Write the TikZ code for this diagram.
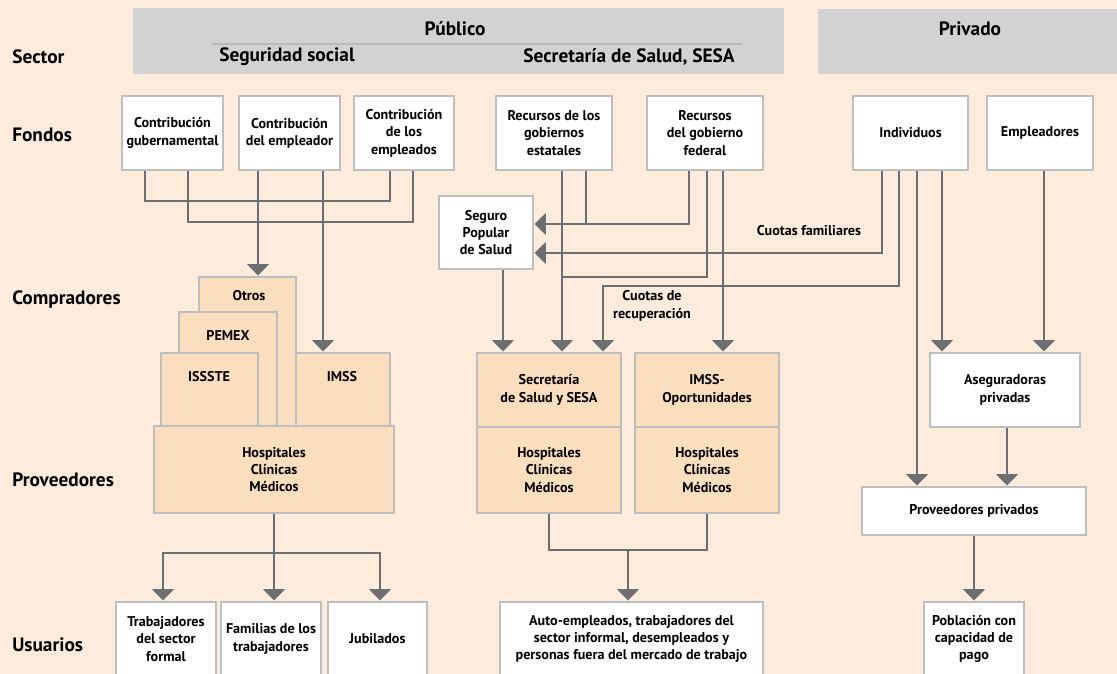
\documentclass[tikz,border=0pt]{standalone}
\usepackage{fontspec}
\setmainfont{PT Sans}
\usepackage{tikz}
\usetikzlibrary{arrows.meta}
\definecolor{bgpeach}{HTML}{FDECDC}
\definecolor{hdrgray}{HTML}{D1D2D4}
\definecolor{rulegray}{HTML}{B8B9BB}
\definecolor{boxgray}{HTML}{BDBEC0}
\definecolor{tanfill}{HTML}{FBDEBD}
\definecolor{linkgray}{HTML}{6D6E71}
\newcommand{\boxfont}{\fontsize{10.6}{13}\selectfont\bfseries}
\newcommand{\rowfont}{\fontsize{14.5}{17}\selectfont\bfseries}
\newcommand{\flowbox}[6][]{\node[box,minimum width=#4*0.75pt,
  minimum height=#5*0.75pt,#1] (#2) at (#3) {#6};}

\begin{document}
\begin{tikzpicture}[x=0.75pt,y=-0.75pt,
  box/.style={draw=boxgray,line width=2.2pt,fill=white,align=center,inner sep=1pt,font=\boxfont},
  tan/.style={fill=tanfill},
  hdr/.style={box,draw=none,fill=hdrgray},
  hdrtxt/.style={font=\rowfont,inner sep=0pt},
  rowlbl/.style={anchor=west,font=\rowfont,inner sep=0pt},
  lbl/.style={font=\boxfont,align=center,inner sep=0pt},
  link/.style={draw=linkgray,line width=2pt},
  arr/.style={link,-{Triangle[width=16pt,length=8.5pt]}}]
\fill[bgpeach] (0,0) rectangle (1117,674);
\useasboundingbox (0,0) rectangle (1117,674);
\node[rowlbl] (lsector) at (12,57) {Sector};
\node[rowlbl] (lfondos) at (12,135) {Fondos};
\node[rowlbl] (lcomp) at (12,300) {Compradores};
\node[rowlbl] (lprov) at (12,480) {Proveedores};
\node[rowlbl] (lusu) at (12,645) {Usuarios};
\flowbox[hdr]{pubhdr}{458.5,41}{651}{66}{}
\flowbox[hdr]{privhdr}{967.5,41.5}{299}{65}{}
\node[hdrtxt] (pubtxt) at (455,29) {Público};
\draw[rulegray,line width=2pt] (212,44) -- (742,44);
\node[hdrtxt] (segtxt) at (287,57) {Seguridad social};
\node[hdrtxt] (sesatxt) at (629,57) {Secretaría de Salud, SESA};
\node[hdrtxt] (privtxt) at (970,29) {Privado};
\flowbox{gub}{172.5,133}{101}{74}{Contribución\\gubernamental}
\flowbox{emp}{289.5,133}{101}{74}{Contribución\\del empleador}
\flowbox{emps}{404,133}{100}{74}{Contribución\\de los\\empleados}
\flowbox{rest}{554,133}{116}{74}{Recursos de los\\gobiernos\\estatales}
\flowbox{refe}{705,133}{116}{74}{Recursos\\del gobierno\\federal}
\flowbox{indiv}{910.5,133}{115}{74}{Individuos}
\flowbox{empl}{1040,133}{106}{74}{Empleadores}
\flowbox{seguro}{486,232.5}{94}{73}{Seguro\\Popular\\de Salud}
\flowbox[tan]{otros}{247.5,351.5}{97}{149}{}
\flowbox[tan]{pemex}{228,369}{98}{114}{}
\flowbox[tan]{issste}{209.5,389.5}{97}{73}{}
\flowbox[tan]{imss}{343,389.5}{94}{73}{}
\flowbox[tan]{hospss}{274,469.5}{240}{87}{Hospitales\\Clínicas\\Médicos}
\node[lbl] (otrostxt) at (249,296) {Otros};
\node[lbl] (pemextxt) at (228,335) {PEMEX};
\node[lbl] (issstetxt) at (209,377) {ISSSTE};
\node[lbl] (imsstxt) at (342,377) {IMSS};
\flowbox[tan]{sesa}{549,390}{144}{74}{Secretaría\\de Salud y SESA}
\flowbox[tan]{hosp2}{549,470}{144}{86}{Hospitales\\Clínicas\\Médicos}
\flowbox[tan]{imsso}{707,390}{144}{74}{IMSS-\\Oportunidades}
\flowbox[tan]{hosp3}{707,470}{144}{86}{Hospitales\\Clínicas\\Médicos}
\flowbox{aseg}{1005,390}{150}{74}{Aseguradoras\\privadas}
\flowbox{provpriv}{974,511}{224}{48}{Proveedores privados}
\flowbox{trab}{166,639}{100}{74}{Trabajadores\\del sector\\formal}
\flowbox{fam}{271,639}{100}{74}{Familias de los\\trabajadores}
\flowbox{jub}{377.5,639}{99}{74}{Jubilados}
\flowbox{auto}{631.5,639}{263}{74}{Auto-empleados, trabajadores del\\sector informal, desempleados y\\personas fuera del mercado de trabajo}
\flowbox{pobl}{974,639}{100}{74}{Población con\\capacidad de\\pago}
\node[lbl] (cfam) at (809,231) {Cuotas familiares};
\node[lbl] (crec) at (652,306) {Cuotas de\\recuperación};
\draw[link] (145,0 |- gub.south) |- (390,201) -- (390,0 |- emps.south);
\draw[link] (188,0 |- gub.south) |- (413,222) -- (413,0 |- emps.south);
\draw[arr] (258,0 |- emp.south) -- (258,0 |- otros.north);
\draw[arr] (323,0 |- emp.south) -- (323,0 |- imss.north);
\draw[arr] (562,0 |- rest.south) -- (562,0 |- sesa.north);
\draw[link] (586,0 |- rest.south) -- (586,224);
\draw[arr] (689,0 |- refe.south) |- (seguro.east |- 0,224);
\draw[link] (707,0 |- refe.south) |- (562,277);
\draw[arr] (723,0 |- refe.south) -- (723,0 |- imsso.north);
\draw[arr] (882,0 |- indiv.south) |- (seguro.east |- 0,253);
\draw[arr] (899,0 |- indiv.south) |- (603,286) -- (603,0 |- sesa.north);
\draw[arr] (917,0 |- indiv.south) -- (917,0 |- provpriv.north);
\draw[arr] (942,0 |- indiv.south) -- (942,0 |- aseg.north);
\draw[arr] (1044,0 |- empl.south) -- (1044,0 |- aseg.north);
\draw[arr] (503,0 |- seguro.south) -- (503,0 |- sesa.north);
\draw[arr] (1007,0 |- aseg.south) -- (1007,0 |- provpriv.north);
\draw[arr] (provpriv.south) -- (pobl.north);
\draw[arr] (274,0 |- hospss.south) -- (274,0 |- fam.north);
\draw[arr] (274,553) -| (163,0 |- trab.north);
\draw[arr] (274,553) -| (380,0 |- jub.north);
\draw[link] (hosp2.south) |- (628,550) -| (hosp3.south);
\draw[arr] (628,550) -- (628,0 |- auto.north);
\end{tikzpicture}
\end{document}
